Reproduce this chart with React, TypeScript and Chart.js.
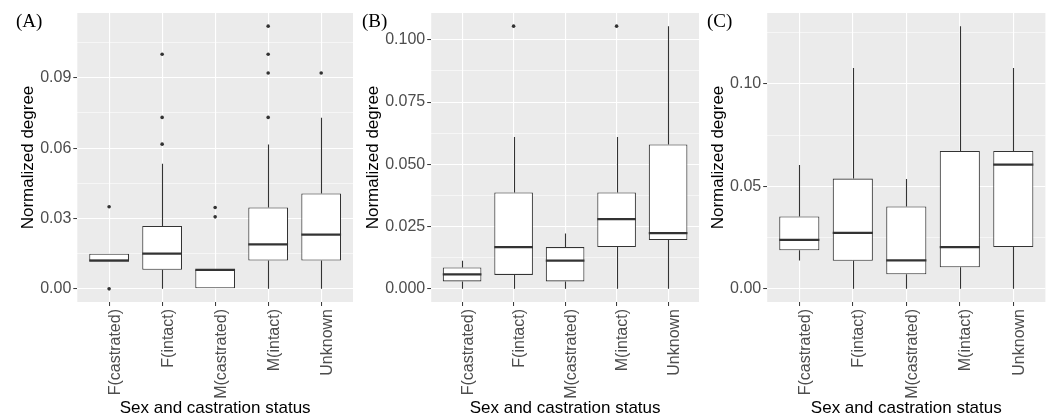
import { useEffect, useRef } from 'react';
import { Chart, registerables } from 'chart.js';

Chart.register(...registerables);

// ---------------- data ----------------
const CATEGORIES = ['F(castrated)', 'F(intact)', 'M(castrated)', 'M(intact)', 'Unknown'];

// Panel A
const A_LOW = [0.012, 0, 0, 0, 0];
const A_Q1 = [0.012, 0.0081, 0, 0.0121, 0.0121];
const A_MEDIAN = [0.012, 0.015, 0.0081, 0.019, 0.0231];
const A_Q3 = [0.015, 0.0268, 0.0081, 0.0347, 0.0407];
const A_HIGH = [0.015, 0.0533, 0.0081, 0.0615, 0.0729];
const A_OUTLIERS = [[0.035, 0], [0.1, 0.0731, 0.0617], [0.0347, 0.0307], [0.112, 0.1, 0.092, 0.0731], [0.092]];
const A_TICKS = [0, 0.03, 0.06, 0.09];
const A_TICK_LABELS = ['0.00', '0.03', '0.06', '0.09'];
const A_MINOR_TICKS = [0.015, 0.045, 0.075, 0.105];

// Panel B
const B_LOW = [0, 0, 0, 0, 0];
const B_Q1 = [0.003, 0.0056, 0.003, 0.0168, 0.0196];
const B_MEDIAN = [0.0058, 0.0168, 0.0113, 0.028, 0.0224];
const B_Q3 = [0.0086, 0.0387, 0.0168, 0.0387, 0.058];
const B_HIGH = [0.0113, 0.061, 0.0222, 0.061, 0.1055];
const B_OUTLIERS = [[], [0.1055], [], [0.1055], []];
const B_TICKS = [0, 0.025, 0.05, 0.075, 0.1];
const B_TICK_LABELS = ['0.000', '0.025', '0.050', '0.075', '0.100'];
const B_MINOR_TICKS = [0.0125, 0.0375, 0.0625, 0.0875];

// Panel C
const C_LOW = [0.0139, 0, 0, 0, 0];
const C_Q1 = [0.0188, 0.0137, 0.0071, 0.0105, 0.0204];
const C_MEDIAN = [0.0239, 0.0273, 0.0139, 0.0204, 0.0606];
const C_Q3 = [0.0353, 0.0538, 0.0402, 0.0673, 0.0673];
const C_HIGH = [0.0605, 0.1078, 0.0536, 0.1282, 0.1078];
const C_OUTLIERS = [[], [], [], [], []];
const C_TICKS = [0, 0.05, 0.1];
const C_TICK_LABELS = ['0.00', '0.05', '0.10'];
const C_MINOR_TICKS = [0.025, 0.075, 0.125];

const X_TITLE = 'Sex and castration status';
const Y_TITLE = 'Normalized degree';

// ---------------- layout ----------------
const H = 419;
const SANS = '"Liberation Sans", Arial, Helvetica, sans-serif';
const SERIF = '"Liberation Serif", "Times New Roman", serif';
const PLOT_TOP = 13;
const PLOT_BOTTOM = 302;

type PanelDef = {
  tag: string;
  low: number[]; q1: number[]; med: number[]; q3: number[]; high: number[];
  outliers: number[][];
  ticks: number[]; tickLabels: string[]; minor: number[];
  left: number; width: number; yWidth: number; padRight: number; yTitleOffset: number; tagX: number;
};

const PANELS: PanelDef[] = [
  { tag: '(A)', low: A_LOW, q1: A_Q1, med: A_MEDIAN, q3: A_Q3, high: A_HIGH, outliers: A_OUTLIERS,
    ticks: A_TICKS, tickLabels: A_TICK_LABELS, minor: A_MINOR_TICKS,
    left: 0, width: 357, yWidth: 77.3, padRight: 1.6, yTitleOffset: 18.4, tagX: 16 },
  { tag: '(B)', low: B_LOW, q1: B_Q1, med: B_MEDIAN, q3: B_Q3, high: B_HIGH, outliers: B_OUTLIERS,
    ticks: B_TICKS, tickLabels: B_TICK_LABELS, minor: B_MINOR_TICKS,
    left: 357, width: 346, yWidth: 74.2, padRight: 1.8, yTitleOffset: 5.8, tagX: 5 },
  { tag: '(C)', low: C_LOW, q1: C_Q1, med: C_MEDIAN, q3: C_Q3, high: C_HIGH, outliers: C_OUTLIERS,
    ticks: C_TICKS, tickLabels: C_TICK_LABELS, minor: C_MINOR_TICKS,
    left: 703, width: 346, yWidth: 64.2, padRight: 3.6, yTitleOffset: 4.8, tagX: 4 },
];

const near = (a: number, b: number) => Math.abs(a - b) < 1e-9;

function Panel({ p }: { p: PanelDef }) {
  const ref = useRef<HTMLCanvasElement | null>(null);

  useEffect(() => {
    if (!ref.current) return;
    const all: number[] = [...p.low, ...p.high, ...p.outliers.flat()];
    const dMin = Math.min(...all);
    const dMax = Math.max(...all);
    const pad = (dMax - dMin) * 0.05;
    const yMin = dMin - pad;
    const yMax = dMax + pad;
    const allTicks = [...p.ticks, ...p.minor].sort((a, b) => a - b);
    const isMinor = (v: number) => p.minor.some((m) => near(m, v));

    const extras = {
      id: 'boxExtras',
      beforeDraw(chart: any) {
        const { ctx, chartArea: a } = chart;
        ctx.save();
        ctx.fillStyle = '#EBEBEB';
        ctx.fillRect(a.left, a.top, a.right - a.left, a.bottom - a.top);
        ctx.restore();
      },
      beforeDatasetsDraw(chart: any) {
        const { ctx } = chart;
        const ys = chart.scales.y;
        const meta = chart.getDatasetMeta(0);
        ctx.save();
        ctx.strokeStyle = '#333333';
        ctx.lineWidth = 1.1;
        meta.data.forEach((bar: any, i: number) => {
          const x = Math.round(bar.x) + 0.5;
          ctx.beginPath();
          ctx.moveTo(x, ys.getPixelForValue(p.low[i]));
          ctx.lineTo(x, ys.getPixelForValue(p.q1[i]));
          ctx.moveTo(x, ys.getPixelForValue(p.q3[i]));
          ctx.lineTo(x, ys.getPixelForValue(p.high[i]));
          ctx.stroke();
        });
        ctx.restore();
      },
      afterDatasetsDraw(chart: any) {
        const { ctx } = chart;
        const ys = chart.scales.y;
        const meta = chart.getDatasetMeta(0);
        ctx.save();
        ctx.strokeStyle = '#333333';
        ctx.lineWidth = 2.2;
        meta.data.forEach((bar: any, i: number) => {
          const y = ys.getPixelForValue(p.med[i]);
          ctx.beginPath();
          ctx.moveTo(bar.x - bar.width / 2, y);
          ctx.lineTo(bar.x + bar.width / 2, y);
          ctx.stroke();
        });
        ctx.restore();
      },
      afterDraw(chart: any) {
        const { ctx } = chart;
        ctx.save();
        ctx.fillStyle = '#000';
        ctx.font = `19px ${SERIF}`;
        ctx.textBaseline = 'alphabetic';
        ctx.textAlign = 'left';
        ctx.fillText(p.tag, p.tagX, 27);
        ctx.restore();
      },
    };

    const outlierPoints: { x: number; y: number }[] = [];
    p.outliers.forEach((vals, i) => vals.forEach((v) => outlierPoints.push({ x: i + 1, y: v })));

    const chart = new Chart(ref.current, {
      type: 'bar',
      data: {
        datasets: [
          {
            type: 'bar',
            data: CATEGORIES.map((_, i) => ({ x: i + 1, y: [p.q1[i], p.q3[i]] })) as any,
            backgroundColor: '#FFFFFF',
            borderColor: '#333333',
            borderWidth: 1.1,
            borderSkipped: false,
            barPercentage: 0.75,
            categoryPercentage: 1,
            order: 2,
          },
          {
            type: 'scatter',
            data: outlierPoints,
            pointRadius: 1.8,
            pointBackgroundColor: '#333333',
            pointBorderWidth: 0,
            showLine: false,
            order: 1,
          } as any,
        ],
      },
      options: {
        responsive: false,
        animation: false,
        events: [],
        layout: { padding: { left: 0, right: p.padRight, top: PLOT_TOP, bottom: 0 } },
        plugins: { legend: { display: false }, tooltip: { enabled: false } },
        scales: {
          x: {
            type: 'linear',
            min: 0.4,
            max: 5.6,
            offset: false,
            afterBuildTicks: (s: any) => {
              s.ticks = CATEGORIES.map((_, i) => ({ value: i + 1 }));
            },
            afterFit: (s: any) => {
              s.height = H - PLOT_BOTTOM;
            },
            grid: { offset: false, color: '#FFFFFF', lineWidth: 1.1, tickColor: '#333333', tickWidth: 1, tickLength: 4 },
            border: { display: false },
            ticks: {
              autoSkip: false,
              minRotation: 90,
              maxRotation: 90,
              padding: 3,
              labelOffset: 6,
              color: '#4D4D4D',
              font: { family: SANS, size: 16 },
              callback: (v: any) => CATEGORIES[Math.round(Number(v)) - 1] ?? '',
            },
            title: {
              display: true,
              text: X_TITLE,
              color: '#000000',
              font: { family: SANS, size: 17 },
              padding: { top: 0, bottom: 0 },
            },
          } as any,
          y: {
            type: 'linear',
            min: yMin,
            max: yMax,
            bounds: 'data',
            afterBuildTicks: (s: any) => {
              s.ticks = allTicks.map((v) => ({ value: v }));
            },
            afterFit: (s: any) => {
              s.width = p.yWidth;
            },
            grid: {
              color: '#FFFFFF',
              lineWidth: (c: any) => (c.tick && isMinor(c.tick.value) ? 0.55 : 1.1),
              tickColor: (c: any) => (c.tick && isMinor(c.tick.value) ? 'rgba(0,0,0,0)' : '#333333'),
              tickWidth: 1,
              tickLength: 4,
            },
            border: { display: false },
            ticks: {
              padding: 2,
              color: '#4D4D4D',
              font: { family: SANS, size: 16 },
              callback: (v: any) => {
                const idx = p.ticks.findIndex((t) => near(t, Number(v)));
                return idx >= 0 ? p.tickLabels[idx] : '';
              },
            },
            title: {
              display: true,
              text: Y_TITLE,
              color: '#000000',
              font: { family: SANS, size: 17 },
              padding: { top: p.yTitleOffset, bottom: 0 },
            },
          } as any,
        },
      },
      plugins: [extras as any],
    });

    return () => chart.destroy();
  }, [p]);

  return (
    <canvas
      ref={ref}
      width={p.width}
      height={H}
      style={{ position: 'absolute', left: p.left, top: 0, width: p.width, height: H }}
    />
  );
}

export default function App() {
  return (
    <div style={{ position: 'absolute', left: 0, top: 0, width: 1049, height: H, background: '#FFFFFF', overflow: 'hidden' }}>
      {PANELS.map((p) => (
        <Panel key={p.tag} p={p} />
      ))}
    </div>
  );
}
